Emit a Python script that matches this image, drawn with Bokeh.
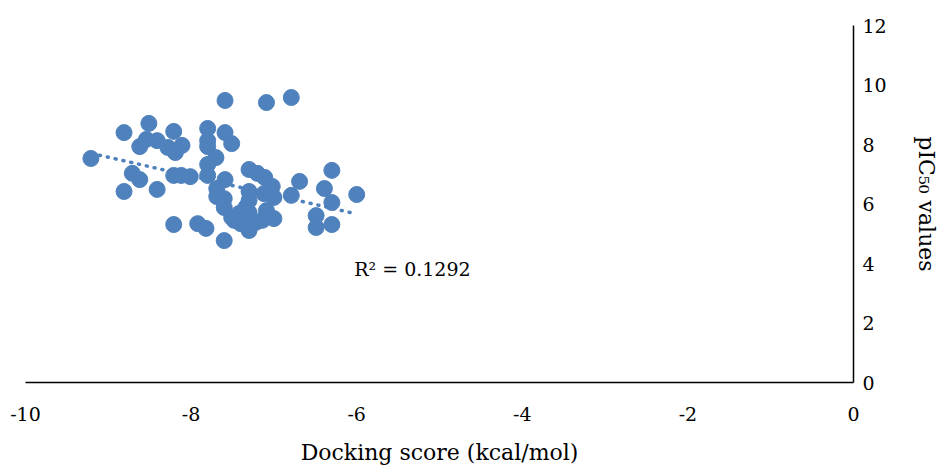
from bokeh.plotting import figure
from bokeh.models import Range1d, SingleIntervalTicker, Label, PrintfTickFormatter
from bokeh.embed import file_html
from bokeh.resources import INLINE

# Docking score (kcal/mol) vs pIC50
dock_score = [-9.21, -8.81, -8.51, -8.62, -8.54, -8.41, -8.21, -8.28, -8.19, -8.11,
              -8.71, -8.62, -8.81, -8.41, -8.21, -8.12, -8.01, -8.21, -7.92, -7.82,
              -7.80, -7.80, -7.80, -7.59, -7.51, -7.70, -7.80, -7.80, -7.59, -7.59,
              -7.09, -6.79, -7.30, -7.20, -7.11, -7.02, -7.00, -7.12, -7.30, -7.69,
              -7.69, -7.60, -7.60, -7.51, -7.42, -7.34, -7.30, -7.30, -7.30, -7.22,
              -7.09, -7.00, -7.30, -7.40, -7.60, -6.79, -6.69, -6.30, -6.39, -6.30,
              -6.00, -6.49, -6.49, -6.30, -7.14, -7.48]
pic50 = [7.53, 8.40, 8.71, 7.93, 8.17, 8.13, 8.44, 7.90, 7.73, 7.97,
         7.03, 6.82, 6.42, 6.49, 6.96, 6.96, 6.92, 5.31, 5.34, 5.18,
         8.54, 8.13, 7.93, 8.40, 8.03, 7.56, 7.33, 6.96, 6.82, 9.48,
         9.41, 9.58, 7.16, 7.03, 6.89, 6.59, 6.22, 6.35, 6.42, 6.52,
         6.25, 6.18, 5.88, 5.55, 5.68, 5.88, 6.12, 5.71, 5.45, 5.38,
         5.78, 5.51, 5.11, 5.34, 4.77, 6.29, 6.76, 7.13, 6.52, 6.05,
         6.32, 5.61, 5.21, 5.31, 5.45, 5.45]

# linear trendline endpoints
trend_x = [-9.2, -6.07]
trend_y = [7.70, 5.71]
r2_text = "R\u00b2 = 0.1292"
r2_pos = (-6.03, 3.83)

x_title = "Docking score (kcal/mol)"
y_title = "pIC\u2085\u2080 values"

FONT = "DejaVu Serif"
BLUE = "#4F81BD"

p = figure(width=944, height=467, output_backend="svg", toolbar_location=None,
           x_range=Range1d(-10, 0), y_range=Range1d(0, 12),
           y_axis_location="right",
           min_border_left=25, min_border_top=25, min_border_right=91, min_border_bottom=85)
p.outline_line_color = None
p.xgrid.visible = False
p.ygrid.visible = False
p.background_fill_color = "white"
p.border_fill_color = "white"

p.xaxis.ticker = SingleIntervalTicker(interval=2)
p.yaxis.ticker = SingleIntervalTicker(interval=2)
for ax in (p.xaxis[0], p.yaxis[0]):
    ax.formatter = PrintfTickFormatter(format="%d")
    ax.major_tick_in = 0
    ax.major_tick_out = 0
    ax.minor_tick_in = 0
    ax.minor_tick_out = 0
    ax.axis_line_color = "black"
    ax.axis_line_width = 1.5
    ax.major_label_text_font = FONT
    ax.major_label_text_font_size = "19px"
    ax.major_label_text_color = "black"
    ax.axis_label_text_font = FONT
    ax.axis_label_text_font_size = "22px"
    ax.axis_label_text_font_style = "normal"
    ax.axis_label_text_color = "black"
p.xaxis.major_label_standoff = 24
p.yaxis.major_label_standoff = 9
p.xaxis.axis_label = x_title
p.xaxis.axis_label_standoff = 16
p.yaxis.axis_label = y_title
p.yaxis.axis_label_standoff = 24

p.scatter(dock_score, pic50, size=16, fill_color=BLUE, line_color=BLUE, line_width=1)
p.line(trend_x, trend_y, line_color=BLUE, line_width=3.5, line_dash="1 7", line_cap="round")

p.add_layout(Label(x=r2_pos[0], y=r2_pos[1], text=r2_text, text_font=FONT,
                   text_font_size="19px", text_color="black",
                   text_align="left", text_baseline="middle"))

open("out.html", "w").write(file_html(p, INLINE))
